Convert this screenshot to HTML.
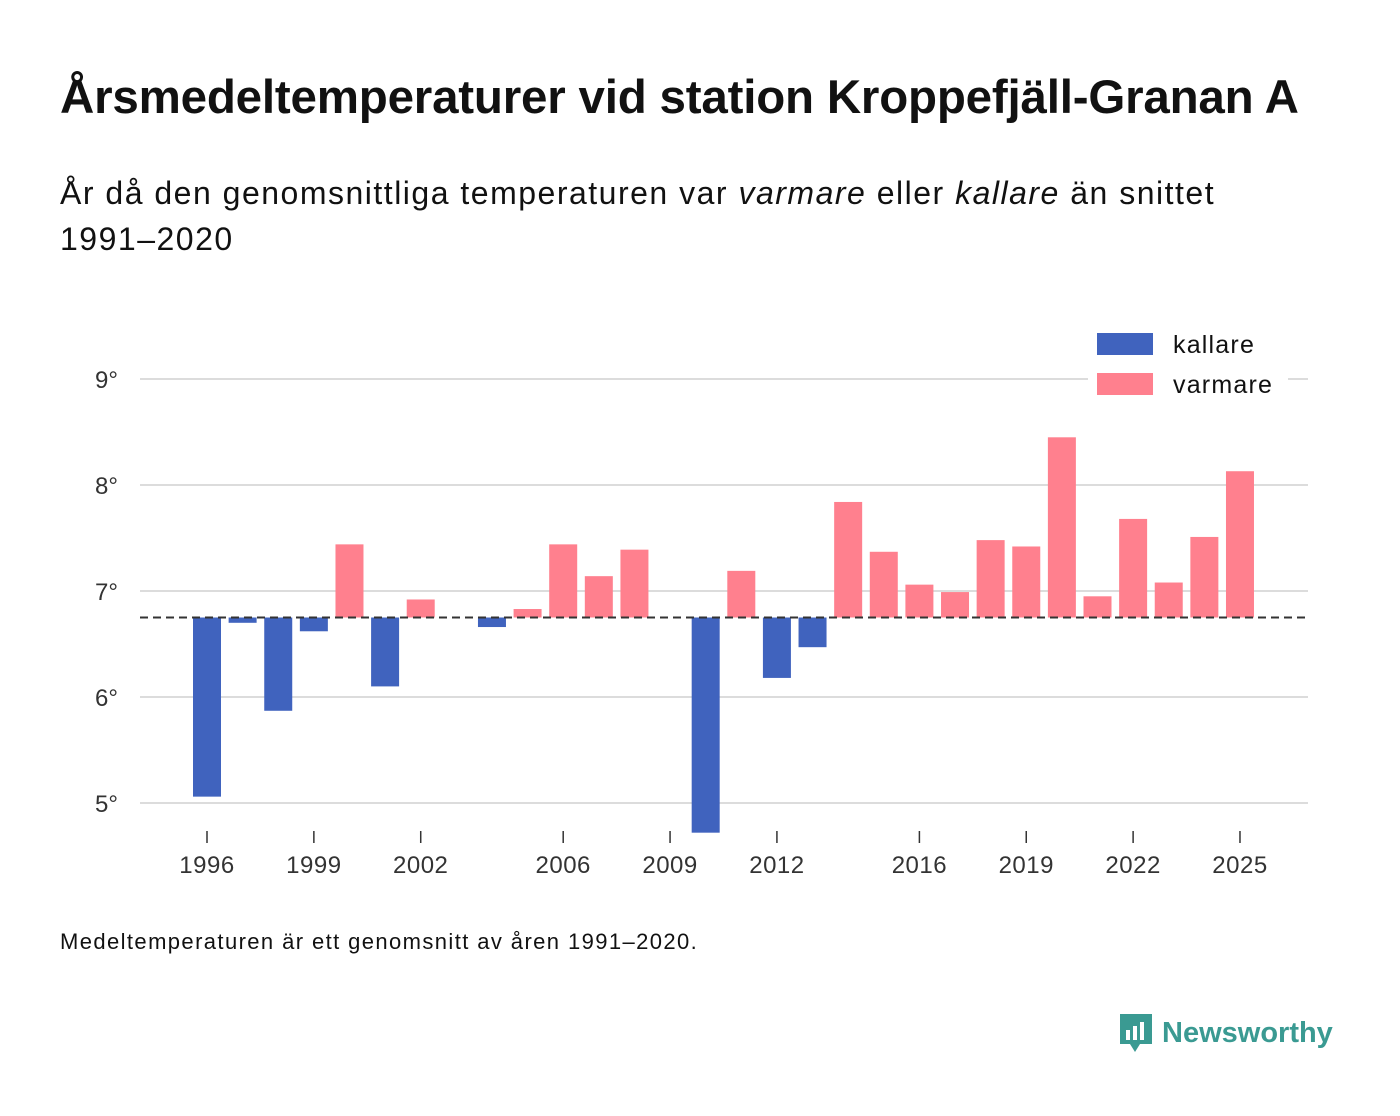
<!DOCTYPE html>
<html><head><meta charset="utf-8">
<style>
body{margin:0;width:1400px;height:1116px;background:#fff;font-family:"Liberation Sans",sans-serif;color:#111;position:relative;overflow:hidden}
#title{position:absolute;left:60px;top:70px;font-size:47.5px;font-weight:bold;letter-spacing:-0.2px;white-space:nowrap}
#sub{position:absolute;left:60px;top:170px;font-size:32px;letter-spacing:1.5px;line-height:46px;width:1200px}
#note{position:absolute;left:60px;top:929px;font-size:22px;letter-spacing:1.4px}
#logo{position:absolute;left:1118px;top:1012px;font-size:29px;font-weight:bold;color:#3a9a92;display:flex;align-items:center;gap:8px}
</style></head><body>
<div id="title">Årsmedeltemperaturer vid station Kroppefjäll-Granan A</div>
<div id="sub">År då den genomsnittliga temperaturen var <i>varmare</i> eller <i>kallare</i> än snittet 1991–2020</div>
<svg id="chart" width="1400" height="1116" style="position:absolute;left:0;top:0"></svg>
<div id="note">Medeltemperaturen är ett genomsnitt av åren 1991–2020.</div>
<div id="logo"><svg width="36" height="42" viewBox="0 0 36 42"><path d="M2 2h32v30H22l-5 8-5-8H2z" fill="#3a9a92"/><rect x="8" y="18" width="4" height="10" fill="#fff"/><rect x="15" y="14" width="4" height="14" fill="#fff"/><rect x="22" y="10" width="4" height="18" fill="#fff"/></svg>Newsworthy</div>
<script>
const years=[1996,1997,1998,1999,2000,2001,2002,2004,2005,2006,2007,2008,2010,2011,2012,2013,2014,2015,2016,2017,2018,2019,2020,2021,2022,2023,2024,2025];
const temps=[5.06,6.70,5.87,6.62,7.44,6.10,6.92,6.66,6.83,7.44,7.14,7.39,4.72,7.19,6.18,6.47,7.84,7.37,7.06,6.99,7.48,7.42,8.45,6.95,7.68,7.08,7.51,8.13];
const baseline=6.75;
const yTicks=[5,6,7,8,9];
const xTicks=[1996,1999,2002,2006,2009,2012,2016,2019,2022,2025];
const NS="http://www.w3.org/2000/svg";
const svg=document.getElementById('chart');
const x=yr=>207+(yr-1996)*35.62;
const y=v=>591-(v-7)*106;
function mk(t,a,txt){const e=document.createElementNS(NS,t);for(const k in a)e.setAttribute(k,a[k]);if(txt!==undefined)e.textContent=txt;svg.appendChild(e);return e;}
yTicks.forEach(t=>{
 const g=mk('line',{x1:140,x2:1308,y1:y(t),y2:y(t),stroke:'#dcdcdc','stroke-width':2});
 
 
 const l=mk('text',{x:118,y:y(t)+9,'text-anchor':'end','font-size':24,fill:'#333'},t+'°');
 
 
});
xTicks.forEach(t=>{
 const tk=mk('line',{x1:x(t),x2:x(t),y1:831,y2:843,stroke:'#333','stroke-width':1.5});
 
 
 const l=mk('text',{x:x(t),y:873,'text-anchor':'middle','font-size':24,'letter-spacing':0.5,fill:'#333'},t);
 
 
});
years.forEach((yr,i)=>{
 const v=temps[i];const top=y(Math.max(v,baseline)),bot=y(Math.min(v,baseline));
 const r=mk('rect',{x:x(yr)-14,y:top,width:28,height:Math.max(bot-top,0.5),fill:v<baseline?'#4063be':'#ff808e'});
 
 
});
const b=mk('line',{x1:140,x2:1308,y1:y(baseline),y2:y(baseline),stroke:'#333','stroke-width':2,'stroke-dasharray':'8,5'});


const lg=mk('rect',{x:1088,y:326,width:200,height:80,fill:'#fff'});


[['kallare','#4063be',333],['varmare','#ff808e',373]].forEach(([n,c,yy])=>{
 const r=mk('rect',{x:1097,y:yy,width:56,height:22,fill:c});
 
 
 const t=mk('text',{x:1173,y:yy+20,'font-size':25,'letter-spacing':1.2,fill:'#111'},n);
 
 
});
</script>
</body></html>
